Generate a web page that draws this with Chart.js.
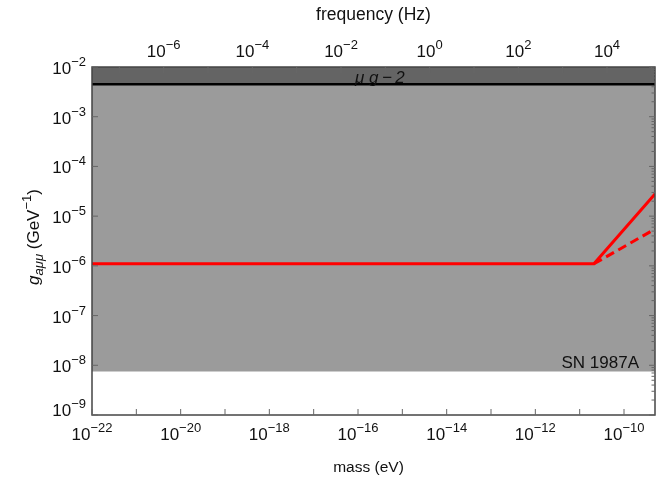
<!DOCTYPE html>
<html>
<head>
<meta charset="utf-8">
<script src="https://cdn.jsdelivr.net/npm/chart.js@4/dist/chart.umd.min.js"></script>
<style>
  html, body { margin: 0; background: #fff; }
</style>
</head>
<body>
<canvas id="chart" width="657" height="477"></canvas>
<script>
// mass axis range (eV) and coupling range (GeV^-1)
const massRange = [1e-22, 5e-10];
const gRange = [1e-9, 1e-2];

// red projected limit: flat then rising (solid) / rising slower (dashed)
const redMass = [1e-22, 2.1e-11, 5e-10];
const redSolid = [1.1e-6, 1.1e-6, 2.8e-5];
const redDashed = [null, 1.1e-6, 5.5e-6];

// excluded regions
const g2Bound = 4.5e-3;     // muon g-2
const snBound = 7.5e-9;     // SN 1987A

// tick exponents
const massTickExp = [-22, -21, -20, -19, -18, -17, -16, -15, -14, -13, -12, -11, -10];
const freqTickExp = [-7, -6, -5, -4, -3, -2, -1, 0, 1, 2, 3, 4, 5];
const gTickExp = [-9, -8, -7, -6, -5, -4, -3, -2];

const HZ_PER_EV = 2.418e14;
const FONT = '"Liberation Sans", Arial, sans-serif';

const pts = (xs, ys) => xs.map((x, i) => ({ x, y: ys[i] })).filter(p => p.y !== null);

function drawPow(ctx, exp, x, y, align) {
    const base = '10';
    const sup = exp < 0 ? '\u2212' + (-exp) : String(exp);
    ctx.font = `17px ${FONT}`;
    const wb = ctx.measureText(base).width;
    ctx.font = `13px ${FONT}`;
    const ws = ctx.measureText(sup).width;
    const w = wb + ws;
    const x0 = align === 'right' ? x - w : align === 'center' ? x - w / 2 : x;
    ctx.textAlign = 'left';
    ctx.textBaseline = 'alphabetic';
    ctx.font = `17px ${FONT}`;
    ctx.fillText(base, x0, y);
    ctx.font = `13px ${FONT}`;
    ctx.fillText(sup, x0 + wb, y - 8);
}

const framePlugin = {
    id: 'frame',
    afterDraw(chart) {
        const { ctx, chartArea: a, scales } = chart;
        const xs = scales.x, xf = scales.xf, ys = scales.y;
        ctx.save();
        ctx.fillStyle = '#111';

        // region labels
        ctx.font = `italic 17px ${FONT}`;
        ctx.textAlign = 'left';
        ctx.fillText('\u03bc g\u2009\u2212\u20092', 355, 83);
        ctx.font = `17px ${FONT}`;
        ctx.textAlign = 'right';
        ctx.fillText('SN 1987A', 639, 368);

        // frame
        ctx.strokeStyle = '#444';
        ctx.lineWidth = 1.5;
        ctx.strokeRect(a.left, a.top, a.right - a.left, a.bottom - a.top);

        ctx.strokeStyle = '#666';
        ctx.lineWidth = 1;
        ctx.beginPath();
        // bottom mass ticks
        massTickExp.forEach(e => {
            const px = xs.getPixelForValue(Math.pow(10, e));
            ctx.moveTo(px, a.bottom); ctx.lineTo(px, a.bottom - 6);
        });
        // top frequency ticks
        freqTickExp.forEach(e => {
            const px = xf.getPixelForValue(Math.pow(10, e));
            if (px < a.left || px > a.right) return;
            ctx.moveTo(px, a.top); ctx.lineTo(px, a.top + 6);
        });
        // left and right g ticks (minor on right)
        gTickExp.forEach(e => {
            const py = ys.getPixelForValue(Math.pow(10, e));
            ctx.moveTo(a.left, py); ctx.lineTo(a.left + 6, py);
            ctx.moveTo(a.right, py); ctx.lineTo(a.right - 6, py);
            if (e < -2) {
                for (let m = 2; m < 10; m++) {
                    const pm = ys.getPixelForValue(m * Math.pow(10, e));
                    ctx.moveTo(a.right, pm); ctx.lineTo(a.right - 3.5, pm);
                }
            }
        });
        ctx.stroke();

        // tick labels
        ctx.fillStyle = '#111';
        massTickExp.filter(e => e % 2 === 0).forEach(e => {
            drawPow(ctx, e, xs.getPixelForValue(Math.pow(10, e)), 440, 'center');
        });
        freqTickExp.filter(e => e % 2 === 0).forEach(e => {
            const px = xf.getPixelForValue(Math.pow(10, e));
            if (px < a.left || px > a.right) return;
            drawPow(ctx, e, px, 57, 'center');
        });
        gTickExp.forEach(e => {
            const py = ys.getPixelForValue(Math.pow(10, e));
            drawPow(ctx, e, 86, Math.min(py + 7, 416), 'right');
        });

        // axis titles
        ctx.textAlign = 'center';
        ctx.font = `15.5px ${FONT}`;
        ctx.fillText('mass (eV)', (a.left + a.right) / 2 - 5, 472);
        ctx.font = `17.5px ${FONT}`;
        ctx.fillText('frequency (Hz)', (a.left + a.right) / 2, 20);

        // rotated y title: g_{aμμ} (GeV^-1)
        ctx.translate(39, 237);
        ctx.rotate(-Math.PI / 2);
        const parts = [
            { t: 'g', f: `italic 17px ${FONT}`, dy: 0 },
            { t: 'a\u03bc\u03bc', f: `italic 13px ${FONT}`, dy: 4 },
            { t: ' (GeV', f: `17px ${FONT}`, dy: 0 },
            { t: '\u22121', f: `13px ${FONT}`, dy: -8 },
            { t: ')', f: `17px ${FONT}`, dy: 0 }
        ];
        let total = 0;
        parts.forEach(p => { ctx.font = p.f; p.w = ctx.measureText(p.t).width; total += p.w; });
        let cx = -total / 2;
        ctx.textAlign = 'left';
        parts.forEach(p => { ctx.font = p.f; ctx.fillText(p.t, cx, p.dy); cx += p.w; });
        ctx.restore();
    }
};

new Chart(document.getElementById('chart'), {
    type: 'line',
    data: {
        datasets: [
            {
                data: pts(redMass, redSolid),
                borderColor: '#ff0000', borderWidth: 3, pointRadius: 0, fill: false
            },
            {
                data: pts(redMass, redDashed),
                borderColor: '#ff0000', borderWidth: 3, borderDash: [9, 5], pointRadius: 0, fill: false
            },
            {
                data: pts(massRange, [g2Bound, g2Bound]),
                borderColor: '#000', borderWidth: 2.5, pointRadius: 0,
                backgroundColor: '#646464', fill: 'end'
            },
            {
                data: pts(massRange, [g2Bound, g2Bound]),
                borderWidth: 0, pointRadius: 0,
                backgroundColor: '#9b9b9b', fill: { value: snBound }
            }
        ]
    },
    options: {
        responsive: false,
        animation: false,
        devicePixelRatio: 1,
        layout: { padding: { left: 92, right: 2, top: 67, bottom: 62 } },
        plugins: { legend: { display: false }, tooltip: { enabled: false } },
        scales: {
            x: { type: 'logarithmic', min: massRange[0], max: massRange[1], display: false },
            xf: {
                type: 'logarithmic', position: 'top', display: false,
                min: massRange[0] * HZ_PER_EV, max: massRange[1] * HZ_PER_EV
            },
            y: { type: 'logarithmic', min: gRange[0], max: gRange[1], display: false }
        }
    },
    plugins: [framePlugin]
});
</script>
</body>
</html>
